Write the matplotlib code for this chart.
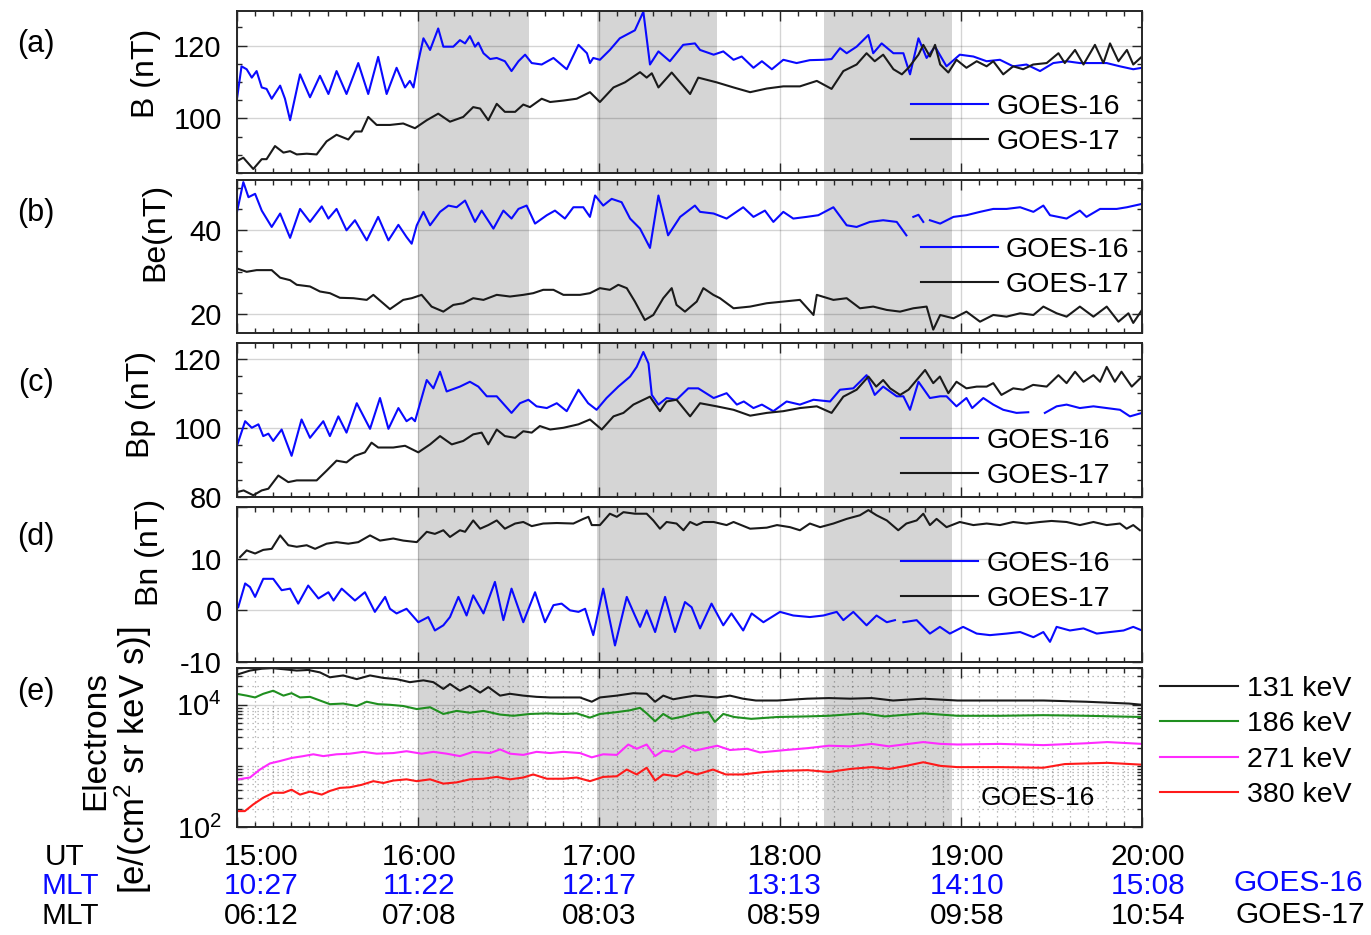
import numpy as np
import matplotlib.pyplot as plt
import matplotlib.transforms as mtransforms
from matplotlib.ticker import MultipleLocator, FixedLocator, FixedFormatter, LogLocator, NullFormatter

plt.rcParams['font.family'] = ['Liberation Sans', 'DejaVu Sans']
plt.rcParams['mathtext.fontset'] = 'custom'
plt.rcParams['mathtext.rm'] = 'Liberation Sans'
plt.rcParams['mathtext.it'] = 'Liberation Sans:italic'

# time in minutes after 15:00 UT
nan = np.nan

# (a) |B|
t_a16 = [0, 1.5, 3.2, 4.9, 6.5, 8.2, 9.8, 11.5, 14.3, 15.9, 17.6, 20.9, 24.2, 27.5, 30.3, 33, 36.3, 40.2, 43.5, 46.8,
         49.6, 52.9, 55.7, 57.3, 58.5, 60.1, 61.8, 64, 66.7, 68.4, 71.7, 73.9, 75.6, 77.2, 78.9, 80, 81.7, 83.9, 86.1, 88.8,
         91, 93.3, 95.5, 97.7, 101, 104.9, 109.3, 113.2, 116, 117, 118.1, 120.3, 123.6, 126.9, 131.9, 134.7, 136.9, 139.7,
         143.5, 147.9, 151.8, 153.5, 158, 161.2, 164.6, 167.3, 171.2, 174, 177.3, 181.1, 185.5, 189.9, 194.4, 197.1, 199.9,
         202.1, 205.4, 209.3, 210.9, 213.7, 217.6, 220.9, 223.1, 225.9, 228.6, 231.4, 235.2, 239.6, 244.1, 248.5, 252.9,
         257.3, 261.7, 266.2, 270.6, 275, 279.4, 283.9, 288.3, 292.7, 297.1, 300]
b_a16 = [105.4, 114.3, 113.5, 111.2, 113.0, 108.5, 108.1, 105.4, 109.0, 105.4, 99.5, 112.1, 105.8, 111.7, 106.7, 113.0,
         106.7, 115.2, 106.7, 116.9, 106.7, 113.9, 108.5, 110.3, 108.5, 115.7, 122.0, 118.8, 124.7, 119.7, 119.7, 121.5,
         120.6, 122.6, 119.7, 120.8, 117.9, 116.3, 116.6, 115.7, 113.0, 115.7, 117.5, 115.2, 114.8, 116.6, 113.5, 120.2,
         117.9, 115.2, 116.6, 116.1, 118.8, 122.0, 124.2, 129.3, 114.8, 118.4, 115.7, 120.2, 120.6, 118.8, 117.5, 118.4,
         116.1, 117.0, 113.9, 115.7, 113.5, 116.1, 115.2, 116.0, 116.1, 116.3, 119.3, 117.9, 119.7, 122.9, 117.9, 120.6,
         117.9, 117.9, 112.1, 122.0, 116.6, 119.7, 114.3, 117.5, 117.0, 115.7, 116.1, 114.3, 114.8, 113.0, 115.2, 115.7,
         115.2, 115.2, 115.2, 114.3, 113.5, 113.9]
t_a17 = [0, 2.1, 5.4, 8.2, 9.8, 12.6, 15.4, 17.6, 19.8, 23.1, 26.4, 29.7, 33, 36.9, 39.1, 41.3, 43.5, 46.3, 50.7, 55.1,
         59, 62.9, 66.7, 70.6, 75, 78.3, 80.6, 83.3, 86.1, 88.8, 92.2, 94.9, 97.1, 101, 103.8, 108.2, 112.6, 117, 120.3,
         124.8, 128.6, 133.6, 135.8, 137.5, 139.7, 144.1, 147.4, 150.2, 152.9, 159, 164.6, 170.1, 175.6, 181.1, 186.6,
         192.2, 197.1, 201, 205.4, 208.7, 211.4, 214.2, 217.6, 220.4, 222.6, 225.9, 227.5, 229.7, 231.4, 233.1, 235.8,
         238.5, 241.8, 245.2, 248.5, 250.7, 254, 257.3, 260.6, 263.9, 268.4, 272.3, 274.4, 277.8, 280.6, 284.4, 287.2,
         289.4, 292.2, 295, 297.1, 300]
b_a17 = [88.3, 89.2, 86.1, 88.8, 88.8, 92.4, 90.6, 91.0, 90.1, 90.3, 90.1, 93.7, 95.5, 94.2, 96.4, 96.4, 100.4, 98.2,
         98.2, 98.6, 97.3, 99.5, 101.3, 99.1, 100.4, 103.1, 102.7, 99.5, 104.0, 101.8, 101.8, 103.8, 103.1, 105.4, 104.5,
         104.9, 105.4, 107.2, 104.5, 108.5, 109.9, 112.7, 111.2, 112.4, 108.5, 112.6, 109.4, 106.7, 111.2, 109.9, 108.5,
         107.2, 108.2, 108.8, 108.8, 110.3, 108.1, 113.0, 114.8, 117.9, 115.7, 117.5, 113.5, 112.1, 113.9, 117.5, 120.2,
         117.0, 120.2, 114.8, 112.6, 116.1, 113.9, 115.7, 114.3, 115.7, 112.1, 114.3, 113.5, 114.8, 115.2, 117.9, 115.2,
         118.8, 114.8, 120.2, 115.2, 120.6, 115.7, 118.8, 114.8, 117.0]

# (b) Be
t_b16 = [0, 2.1, 3.8, 6, 8.2, 11.5, 14.3, 17.6, 20.9, 24.2, 28.1, 30.3, 33, 36.3, 39.1, 43, 46.8, 50.2, 53.5, 56.2, 57.9,
         59.6, 61.8, 64, 67.3, 70.1, 72.8, 75.6, 78.9, 81.1, 85, 88.3, 91, 93.3, 96, 98.8, 102.7, 105.4, 108.7, 111.5,
         114.8, 117, 118.7, 121.4, 124.2, 127.5, 130.3, 133.6, 136.9, 139.7, 142.9, 146.9, 151.8, 153.5, 158, 162.3, 167.8,
         171.2, 175, 177.8, 181.1, 184.4, 188.8, 192.7, 197.7, 202.1, 205.4, 209.8, 214.2, 218.7, 221.9, 223, 224.2, 225.9,
         227.5, 228.6, 229.7, 233.1, 237.5, 241.8, 246.3, 250.7, 255.1, 259.6, 264, 267.3, 269.5, 275, 279.4, 281.6, 286.1,
         291.6, 295, 300]
b_b16 = [44.4, 51.5, 47.9, 48.7, 44.7, 40.8, 44.0, 38.2, 45.1, 42.0, 45.7, 42.8, 45.1, 40.0, 42.4, 37.6, 43.2, 37.6, 41.3,
         38.4, 36.8, 41.2, 44.4, 41.2, 44.4, 45.9, 45.5, 47.1, 42.0, 44.7, 40.4, 44.7, 42.8, 45.1, 45.9, 41.6, 43.6, 44.7,
         42.8, 45.5, 45.5, 43.2, 48.3, 45.9, 47.5, 46.7, 42.8, 40.4, 35.8, 48.3, 38.8, 43.2, 45.9, 44.4, 44.0, 42.8, 45.5,
         43.2, 44.7, 42.0, 44.4, 42.8, 43.2, 43.6, 45.5, 41.2, 40.8, 42.0, 42.4, 42.0, 38.8, nan, 43.2, 43.7, 42.0, nan,
         42.4, 41.6, 43.2, 43.6, 44.4, 45.1, 45.1, 45.5, 44.4, 45.9, 43.6, 42.8, 44.7, 43.2, 45.1, 45.1, 45.5, 46.3]
t_b17 = [0, 3.2, 6.5, 11.5, 14.3, 17.6, 19.8, 24.2, 27.5, 30.8, 34.1, 38.6, 43, 45.2, 50.7, 55.1, 57.9, 61.2, 64.5, 68.4,
         71.7, 75, 78.3, 81.7, 86.1, 90.5, 94.9, 98.2, 101.5, 104.9, 108.2, 113.7, 117, 120.3, 123.6, 126.4, 129.2, 131.9,
         135.2, 138, 141.3, 144.1, 145.7, 148.5, 152.4, 154.6, 157.9, 160.1, 164.6, 170.1, 175.6, 181.1, 186.6, 191.1,
         192.2, 197.7, 202.1, 206.5, 210.9, 215.4, 219.8, 224.2, 228.6, 230.8, 233.1, 237.5, 241.8, 246.3, 250.7, 255.1,
         259.6, 264, 267.3, 271.7, 275, 279.4, 283.9, 288.3, 292.2, 295.5, 297.1, 300]
b_b17 = [30.9, 30.1, 30.5, 30.5, 28.7, 28.1, 27.0, 26.6, 25.4, 25.0, 23.9, 23.8, 23.4, 24.6, 21.2, 23.4, 23.8, 24.6, 21.8,
         20.6, 22.2, 22.6, 23.8, 23.4, 24.6, 24.2, 24.6, 25.0, 25.8, 25.8, 24.6, 24.6, 25.0, 26.2, 25.8, 27.0, 26.2, 23.0,
         18.6, 19.8, 23.8, 26.2, 22.2, 20.6, 23.0, 26.2, 24.6, 23.8, 21.4, 21.8, 22.6, 23.0, 23.4, 19.8, 24.6, 23.4, 23.8,
         21.4, 21.8, 21.0, 20.6, 21.4, 21.8, 16.3, 19.8, 19.0, 20.6, 18.2, 19.8, 19.4, 20.2, 19.8, 21.8, 20.2, 19.4, 21.8,
         19.4, 21.8, 18.2, 20.2, 17.9, 21.0]

# (c) Bp
t_c16 = [0, 2.7, 4.9, 7.1, 8.7, 10.4, 12, 14.8, 18.1, 21.4, 24.2, 28.6, 30.8, 33.6, 36.3, 39.7, 44.1, 47.4, 50.2, 53.5,
         56.2, 57.9, 59, 62.9, 65.1, 67.3, 69.5, 73.9, 77.2, 80, 82.8, 86.1, 91, 93.8, 96.6, 99.3, 102.7, 106, 109.3, 113.2,
         116.4, 119.2, 122.5, 126.4, 130.3, 132.5, 134.7, 136.4, 137.5, 139.7, 142.4, 145.7, 149.6, 152.9, 158, 162.3,
         165.7, 168, 171.2, 174, 177.8, 182.2, 186.6, 191.1, 196.6, 199.9, 204.3, 208.7, 211.4, 214.2, 218.7, 220.9, 223.1,
         225.9, 229.7, 233.1, 235.2, 238.5, 241.8, 243.7, 247.4, 250.7, 254, 258.4, 262.3, 265, 267.8, 271.7, 275, 279.4,
         283.9, 288.3, 292.7, 296, 300]
b_c16 = [94.8, 101.9, 100.0, 101.0, 97.6, 98.3, 96.2, 99.5, 91.9, 102.4, 97.1, 101.9, 97.6, 103.3, 98.6, 107.1, 99.7,
         108.6, 99.7, 105.7, 101.9, 102.9, 101.9, 113.8, 111.4, 116.2, 110.5, 111.9, 113.3, 111.9, 109.1, 109.1, 104.3,
         107.1, 108.1, 106.2, 105.7, 107.1, 104.8, 111.0, 107.1, 105.2, 108.6, 111.9, 114.8, 117.6, 121.9, 118.6, 109.5,
         106.7, 108.6, 108.1, 111.4, 111.4, 108.6, 110.0, 106.7, 107.6, 105.7, 106.7, 104.8, 107.6, 106.7, 108.1, 107.6,
         111.0, 111.4, 115.2, 109.5, 111.9, 109.1, 109.1, 105.2, 113.3, 108.6, 109.1, 109.1, 106.2, 108.6, 105.7, 108.6,
         106.7, 105.2, 104.3, 104.5, nan, 104.3, 106.2, 106.7, 105.7, 106.2, 105.7, 105.2, 103.3, 104.3]
t_c17 = [0, 2.2, 5.4, 8.2, 10.4, 13.7, 17, 19.8, 22.5, 26.4, 29.7, 33, 36.3, 39.1, 42.4, 44.6, 46.8, 51.8, 55.7, 60.1, 64,
         67.3, 71.2, 75, 78.3, 81.1, 83.3, 86.1, 88.8, 92.2, 94.9, 97.7, 100.4, 103.8, 108.2, 113.2, 117, 120.9, 124.8,
         128.1, 131.4, 136.9, 140.2, 142.4, 145.7, 150.2, 153.5, 159, 164.6, 170.1, 175.6, 181.1, 186.6, 192.2, 197.1,
         201, 205.4, 209.3, 211.9, 214.2, 216.5, 219.8, 222.6, 225.3, 228.1, 230.8, 233, 235.8, 238.5, 241.8, 245.2, 248.5,
         250.7, 253.4, 257.3, 260.6, 263.9, 268.4, 272.3, 275, 277.8, 280.6, 283.9, 286.1, 288.3, 291, 293.2, 296.6, 300]
b_c17 = [81.4, 81.9, 80.5, 81.9, 82.4, 86.2, 84.3, 84.8, 84.8, 84.8, 87.6, 90.5, 90.0, 91.9, 92.9, 95.7, 94.3, 94.3, 94.8,
         92.9, 95.2, 97.6, 95.2, 96.2, 98.1, 98.6, 95.2, 99.5, 97.6, 97.1, 99.0, 98.6, 100.5, 99.5, 100.0, 101.0, 102.4,
         99.5, 103.3, 104.3, 106.7, 109.0, 104.8, 107.6, 108.1, 103.3, 107.1, 106.2, 105.2, 103.5, 104.3, 104.8, 105.7,
         106.2, 104.3, 109.0, 111.0, 114.8, 111.9, 113.8, 111.4, 109.5, 111.0, 113.8, 116.7, 112.9, 114.8, 110.0, 113.3,
         111.4, 111.9, 111.9, 112.9, 109.5, 111.4, 111.0, 112.4, 111.9, 115.2, 112.9, 116.2, 113.3, 115.2, 113.3, 117.6,
         113.3, 116.2, 111.9, 114.8]

# (d) Bn
t_d17 = [1, 3.2, 6, 8.7, 11.5, 14.3, 17, 19.8, 23.1, 25.9, 29.7, 33, 36.9, 40.2, 44.1, 47.4, 51.8, 55.1, 59.6, 62.9, 65.6,
         68.4, 70.6, 73.9, 75.6, 78.3, 80.6, 83.3, 86.1, 88.8, 92.2, 94.9, 97.7, 101.5, 106, 111.5, 114.8, 116.5, 117.6,
         120.3, 123.6, 125.9, 128.1, 131.9, 135.8, 138, 140.2, 142.4, 145.7, 148, 150.2, 152.4, 154.6, 158, 162.3, 164.6,
         170.1, 175.6, 179, 183.3, 186.6, 189.9, 193.3, 197.7, 202.1, 206.5, 209.3, 212, 215.4, 219.2, 221.9, 225.3, 227.5,
         229.7, 231.9, 235.2, 239.6, 244.1, 248.5, 252.9, 257.3, 261.7, 266.2, 270, 275, 279.4, 283.9, 288.3, 292.7, 294.9,
         297.1, 299.3]
b_d17 = [10.3, 11.6, 11.0, 11.7, 11.9, 14.5, 12.6, 12.3, 12.6, 11.9, 12.9, 13.2, 12.9, 13.2, 14.5, 13.5, 13.9, 13.5, 13.2,
         15.2, 14.8, 15.5, 14.2, 15.5, 15.2, 17.4, 15.8, 16.5, 17.4, 15.8, 16.8, 17.1, 16.3, 16.8, 16.9, 16.8, 17.7, 18.1,
         16.5, 16.5, 18.7, 18.1, 19.0, 18.7, 18.7, 17.4, 15.8, 17.1, 16.8, 15.5, 17.1, 16.5, 17.1, 17.1, 16.5, 17.1, 15.8,
         16.0, 16.5, 16.1, 15.5, 16.8, 16.1, 16.8, 17.7, 18.4, 19.4, 18.4, 17.4, 15.5, 16.8, 17.4, 18.7, 16.5, 17.7, 16.1,
         17.1, 16.5, 16.8, 16.5, 17.1, 16.8, 17.1, 17.3, 17.1, 16.5, 17.1, 16.5, 16.8, 15.8, 16.5, 15.5]
t_d16 = [0.4, 2.7, 4.3, 6, 8.7, 12, 14.8, 17.6, 20.3, 23.6, 27, 30.3, 32, 34.7, 39.1, 42.4, 45.7, 49.1, 50.7, 52.9, 56.2,
         60.1, 63.4, 65.6, 68.4, 70.6, 73.4, 76.1, 78.3, 81.7, 85.5, 88.3, 91, 94.9, 98.8, 102.1, 104.9, 107.6, 110.4,
         113.2, 115.4, 118.1, 121.4, 125.3, 129.2, 131.9, 133.6, 135.8, 138.6, 141.9, 145.2, 148.5, 150.7, 153.5, 157.3,
         161.2, 163.9, 167.8, 170.6, 174.5, 180, 184.4, 189.9, 194.4, 198.8, 201, 204.3, 208.7, 212, 215.4, 218.1, 219.5,
         220.9, 225.3, 229.7, 233, 236.3, 240.7, 245.2, 249.6, 255.1, 259.6, 264, 267.3, 269.5, 271.7, 276.1, 280.6, 285,
         289.4, 293.9, 297.1, 300]
b_d16 = [0.6, 5.2, 4.5, 2.6, 6.1, 6.1, 3.9, 4.2, 1.3, 4.8, 2.3, 3.5, 1.9, 4.2, 1.9, 3.5, -0.3, 2.6, 0.3, -0.6, 0.3, -2.3,
         -1.3, -3.9, -2.9, -1.3, 2.6, -1.0, 2.9, -0.6, 5.5, -1.9, 4.2, -2.3, 3.5, -2.3, 1.0, 1.3, 0.0, -0.3, 0.3, -4.8, 4.2,
         -6.8, 2.6, -1.0, -3.2, 0.0, -4.2, 2.6, -4.2, 1.6, 0.6, -3.5, 1.3, -2.9, -0.6, -3.9, -0.6, -2.3, -0.3, -1.0, -1.3,
         -1.0, -0.3, -1.9, -0.3, -2.9, -1.0, -2.3, -1.9, nan, -2.3, -1.9, -4.5, -3.2, -4.5, -3.2, -4.5, -4.8, -4.5, -4.2,
         -5.2, -4.2, -6.1, -3.2, -3.9, -3.5, -4.5, -4.2, -3.9, -3.2, -3.9]

# (e) GOES-16 electron flux, log10 values
t_131 = [0.4, 4.3, 8.2, 11.5, 15.9, 19.8, 23.6, 27.5, 30.8, 35.2, 39.7, 44.1, 48.5, 52.9, 57.3, 61.8, 65.1, 68.4, 70.6,
         73.9, 77.2, 80.6, 83.3, 87.2, 90.5, 94.9, 99.3, 103.8, 108.2, 113.7, 117.6, 120.3, 125.9, 131.4, 135.8, 138.6,
         141.3, 144.6, 148, 151.8, 159.2, 163.4, 167.7, 172, 179.1, 189.1, 196.2, 203.3, 210.4, 217.5, 227.5, 238.8, 253,
         267.3, 281.5, 295.7, 300]
f_131 = [4.50, 4.56, 4.59, 4.60, 4.58, 4.56, 4.57, 4.53, 4.45, 4.48, 4.42, 4.48, 4.44, 4.42, 4.37, 4.40, 4.37, 4.26, 4.34,
         4.23, 4.31, 4.20, 4.29, 4.15, 4.18, 4.15, 4.13, 4.12, 4.12, 4.12, 4.05, 4.12, 4.15, 4.19, 4.18, 4.05, 4.15, 4.09,
         4.12, 4.15, 4.12, 4.15, 4.10, 4.07, 4.07, 4.10, 4.11, 4.10, 4.11, 4.07, 4.10, 4.07, 4.07, 4.07, 4.05, 4.02, 4.00]
t_186 = [0.4, 3.2, 6, 8.7, 12, 15.4, 18.1, 20.9, 24.2, 27.5, 30.8, 35.2, 39.7, 43, 46.8, 50.7, 55.1, 59.6, 64, 68.4, 72.8,
         77.2, 81.7, 87.2, 91.6, 97.1, 102.7, 108.2, 112.6, 117, 120.3, 125.9, 130.3, 133.6, 135.8, 138.6, 141.3, 144.1,
         148, 151.8, 156.3, 158.4, 161.2, 164.8, 170.5, 179.1, 189.1, 196.2, 207.6, 214.7, 227.5, 238.8, 253, 267.3, 281.5,
         300]
f_186 = [4.175, 4.15, 4.12, 4.18, 4.23, 4.15, 4.19, 4.12, 4.13, 4.07, 4.01, 4.02, 3.98, 4.05, 4.01, 4.00, 3.98, 3.93, 3.96,
         3.85, 3.90, 3.87, 3.90, 3.84, 3.82, 3.85, 3.86, 3.85, 3.86, 3.79, 3.85, 3.88, 3.91, 3.95, 3.86, 3.73, 3.85, 3.77,
         3.81, 3.86, 3.88, 3.72, 3.85, 3.80, 3.77, 3.80, 3.81, 3.82, 3.86, 3.81, 3.86, 3.82, 3.82, 3.83, 3.82, 3.80]
t_271 = [0.4, 4.3, 7.6, 10.9, 14.3, 18.1, 22, 25.3, 28.6, 33, 37.4, 41.9, 46.3, 51.8, 56.2, 61.2, 65.1, 69.5, 73.9, 78.3,
         83.9, 87.2, 90.5, 94.9, 99.3, 103.8, 108.2, 113.7, 117.6, 121.4, 125.9, 129.7, 132.5, 135.8, 138.6, 141.3, 144.6,
         148, 151.8, 159.2, 163.4, 169.1, 173.4, 181.9, 189.1, 196.2, 203.3, 210.4, 216.1, 227.5, 233.2, 238.8, 253, 267.3,
         281.5, 288.5, 300]
f_271 = [2.78, 2.81, 2.94, 3.04, 3.08, 3.13, 3.16, 3.19, 3.16, 3.19, 3.20, 3.23, 3.20, 3.21, 3.24, 3.20, 3.23, 3.20, 3.16,
         3.23, 3.21, 3.27, 3.20, 3.18, 3.23, 3.21, 3.23, 3.21, 3.14, 3.19, 3.18, 3.35, 3.28, 3.35, 3.16, 3.25, 3.23, 3.33,
         3.25, 3.33, 3.26, 3.28, 3.22, 3.26, 3.29, 3.33, 3.32, 3.36, 3.32, 3.39, 3.36, 3.35, 3.36, 3.34, 3.37, 3.39, 3.36]
t_380 = [0.4, 2.6, 5.4, 8.7, 12, 15.4, 18.1, 20.9, 24.2, 28.1, 30.8, 34.1, 37.4, 41.3, 45.2, 48.5, 51.8, 56.2, 59.6, 64,
         68.4, 72.8, 77.2, 81.7, 86.1, 90.5, 94.9, 98.2, 102.7, 108.2, 112.6, 117, 121.4, 125.9, 129.2, 132.5, 135.8, 138.6,
         141.3, 145.7, 149.1, 152.4, 157.8, 162, 167.7, 174.8, 181.9, 189.1, 196.2, 203.3, 210.4, 216.1, 221.8, 227.5,
         233.2, 238.8, 253, 267.3, 274.4, 288.5, 300]
f_380 = [2.26, 2.26, 2.37, 2.48, 2.56, 2.56, 2.61, 2.53, 2.58, 2.53, 2.59, 2.64, 2.65, 2.69, 2.75, 2.72, 2.76, 2.78, 2.75,
         2.78, 2.71, 2.73, 2.78, 2.79, 2.82, 2.78, 2.81, 2.86, 2.79, 2.79, 2.81, 2.75, 2.82, 2.83, 2.94, 2.86, 2.97, 2.76,
         2.86, 2.83, 2.91, 2.86, 2.94, 2.86, 2.86, 2.90, 2.92, 2.93, 2.90, 2.95, 2.98, 2.95, 3.00, 3.06, 3.00, 2.98, 2.98,
         2.97, 3.03, 3.05, 3.02]

shades = [(60, 96.8), (119.3, 159.1), (194.6, 237)]

ut_labels = ['15:00', '16:00', '17:00', '18:00', '19:00', '20:00']
mlt16_labels = ['10:27', '11:22', '12:17', '13:13', '14:10', '15:08']
mlt17_labels = ['06:12', '07:08', '08:03', '08:59', '09:58', '10:54']
label_x = [8, 60.3, 120, 181.5, 242, 302]

BLUE = '#0a0aff'
BLACK = '#1a1a1a'

W, H = 1371, 935
fig = plt.figure(figsize=(W / 100, H / 100), dpi=100)


def box(top, bottom, left=237, right=1142):
    return [left / W, 1 - bottom / H, (right - left) / W, (bottom - top) / H]


def style(ax):
    ax.set_xlim(0, 300)
    ax.xaxis.set_major_locator(MultipleLocator(60))
    ax.xaxis.set_minor_locator(MultipleLocator(6))
    ax.tick_params(which='both', direction='in', top=True, right=True, labelbottom=False,
                   width=1.0, color='#262626', labelsize=21, pad=11)
    ax.tick_params(which='major', length=7)
    ax.tick_params(which='minor', length=3.5)
    ax.grid(True, which='major', color='k', alpha=0.17, lw=1.0)
    ax.set_axisbelow(True)
    for s in ax.spines.values():
        s.set_linewidth(1.4)
        s.set_color('#262626')
    for a, b in shades:
        ax.axvspan(a, b, color='#d5d5d5', lw=0, zorder=0.2)


def legend(ax, x, y):
    ax.legend(loc='center left', bbox_to_anchor=(x, y), frameon=False, borderpad=0.3, borderaxespad=0,
              handlelength=2.7, handletextpad=0.3, labelspacing=0.33, fontsize=20.5)


lw = 1.5
kw = dict(lw=lw, solid_joinstyle='round')

ax_a = fig.add_axes(box(11, 173))
style(ax_a)
ax_a.plot(t_a16, b_a16, color=BLUE, label='GOES-16', **kw)
ax_a.plot(t_a17, b_a17, color=BLACK, label='GOES-17', **kw)
ax_a.set_ylim(85, 129.5)
ax_a.set_yticks([100, 120])
ax_a.yaxis.set_minor_locator(MultipleLocator(5))
legend(ax_a, 0.735, 0.30)

ax_b = fig.add_axes(box(180, 333))
style(ax_b)
ax_b.plot(t_b16, b_b16, color=BLUE, label='GOES-16', **kw)
ax_b.plot(t_b17, b_b17, color=BLACK, label='GOES-17', **kw)
ax_b.set_ylim(15.5, 52)
ax_b.set_yticks([20, 40])
ax_b.yaxis.set_minor_locator(MultipleLocator(5))
legend(ax_b, 0.746, 0.43)

ax_c = fig.add_axes(box(343, 497))
style(ax_c)
ax_c.plot(t_c16, b_c16, color=BLUE, label='GOES-16', **kw)
ax_c.plot(t_c17, b_c17, color=BLACK, label='GOES-17', **kw)
ax_c.set_ylim(80, 124.5)
ax_c.set_yticks([80, 100, 120])
ax_c.yaxis.set_minor_locator(MultipleLocator(5))
legend(ax_c, 0.724, 0.25)

ax_d = fig.add_axes(box(507, 662))
style(ax_d)
ax_d.plot(t_d16, b_d16, color=BLUE, label='GOES-16', **kw)
ax_d.plot(t_d17, b_d17, color=BLACK, label='GOES-17', **kw)
ax_d.set_ylim(-10, 20)
ax_d.yaxis.set_major_locator(FixedLocator([-10, 0, 10, 20]))
ax_d.yaxis.set_major_formatter(FixedFormatter(['-10', '0', '10', '']))
legend(ax_d, 0.724, 0.52)

ax_e = fig.add_axes(box(668, 827))
style(ax_e)
ax_e.set_yscale('log')
for tt, ff, c, lab in [(t_131, f_131, BLACK, '131 keV'), (t_186, f_186, '#1f8f1f', '186 keV'),
                       (t_271, f_271, '#ff2bff', '271 keV'), (t_380, f_380, '#ff1a1a', '380 keV')]:
    ax_e.plot(tt, 10 ** np.array(ff), color=c, label=lab, **kw)
ax_e.set_ylim(1e2, 4e4)
ax_e.yaxis.set_major_locator(FixedLocator([1e2, 1e4]))
ax_e.yaxis.set_minor_locator(LogLocator(base=10, subs=np.arange(1, 10)))
ax_e.yaxis.set_minor_formatter(NullFormatter())
ax_e.grid(True, which='minor', color='k', alpha=0.35, lw=0.9, ls=(0, (1, 3)))
ax_e.legend(loc='center left', bbox_to_anchor=(1.02, 0.535), frameon=False, borderpad=0, borderaxespad=0,
            handlelength=2.75, handletextpad=0.3, labelspacing=0.33, fontsize=20.5)
ax_e.text(0.885, 0.18, 'GOES-16', transform=ax_e.transAxes, ha='center', va='center', fontsize=19)

# time axis annotation rows
tr = mtransforms.blended_transform_factory(ax_e.transData, fig.transFigure)
rows = [(ut_labels, 857, 'black'), (mlt16_labels, 886, BLUE), (mlt17_labels, 916, 'black')]
for labels, ypx, c in rows:
    for x, s in zip(label_x, labels):
        ax_e.text(x, 1 - ypx / H, s, transform=tr, ha='center', va='center', fontsize=21.5, color=c, clip_on=False)

fig.text(65 / W, 1 - 857 / H, 'UT', ha='center', va='center', fontsize=21.5)
fig.text(70 / W, 1 - 886 / H, 'MLT', ha='center', va='center', fontsize=21.5, color=BLUE)
fig.text(70 / W, 1 - 916 / H, 'MLT', ha='center', va='center', fontsize=21.5)
fig.text(1363 / W, 1 - 883 / H, 'GOES-16', ha='right', va='center', fontsize=21.5, color=BLUE)
fig.text(1365 / W, 1 - 915 / H, 'GOES-17', ha='right', va='center', fontsize=21.5)

for s, ypx in [('(a)', 44), ('(b)', 213), ('(c)', 383), ('(d)', 537), ('(e)', 692)]:
    fig.text(36 / W, 1 - ypx / H, s, ha='center', va='center', fontsize=22)

ylabs = [('B (nT)', 146, 73, 23), ('Be(nT)', 155, 232, 23), ('Bp (nT)', 141, 405, 23), ('Bn (nT)', 150, 552, 23),
         ('Electrons', 96, 740, 24), ('[e/(cm$^2$ sr keV s)]', 133, 760, 25)]
for s, xpx, ypx, fs in ylabs:
    fig.text(xpx / W, 1 - ypx / H, s, ha='center', va='center', rotation=90, fontsize=fs)

fig.savefig('out.png', dpi=100)
